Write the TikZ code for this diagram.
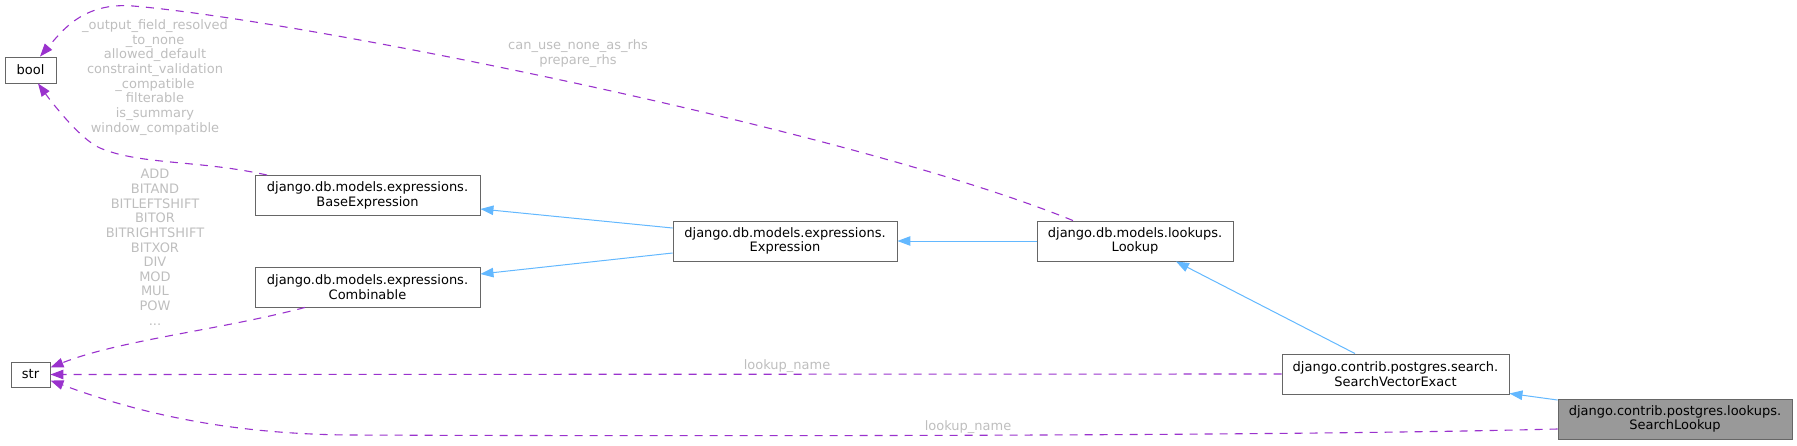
\documentclass[tikz,border=0pt]{standalone}
\usepackage{fontspec}
\setmainfont{DejaVu Sans}
\usetikzlibrary{arrows.meta}
\definecolor{bordocl}{HTML}{666666}
\definecolor{grigiocl}{HTML}{999999}
\definecolor{blucl}{HTML}{63B8FF}
\definecolor{violacl}{HTML}{9A32CD}
\definecolor{etichcl}{HTML}{BEBEBE}
\begin{document}
\begin{tikzpicture}[
    x=1pt, y=-1pt,
    font=\fontsize{13}{14.65}\selectfont,
    classe/.style={draw=bordocl,fill=white,line width=0.9pt,align=center,
                   inner sep=0pt,minimum height=40},
    corrente/.style={classe,fill=grigiocl},
    eredita/.style={draw=blucl,line width=1pt,-{Triangle[length=13pt,width=9.5pt]}},
    uso/.style={draw=violacl,line width=1.1pt,dash pattern=on 8pt off 7pt,
                -{Triangle[length=13pt,width=9.5pt]}},
    etich/.style={text=etichcl,align=center,inner sep=0pt}]

  \useasboundingbox (0,0) rectangle (1797,445);

  % ---- le classi -------------------------------------------------------------
  \node[classe,minimum width=51,minimum height=26] (bool) at (30.5,70)  {bool};
  \node[classe,minimum width=39,minimum height=25] (str)  at (30.5,374.5) {str};
  \node[classe,minimum width=225] (base) at (367.5,195.5)
    {django.db.models.expressions.\\BaseExpression};
  \node[classe,minimum width=225] (comb) at (367.5,287)
    {django.db.models.expressions.\\Combinable};
  \node[classe,minimum width=224] (expr) at (785,241)
    {django.db.models.expressions.\\Expression};
  \node[classe,minimum width=196] (lookup) at (1135,241)
    {django.db.models.lookups.\\Lookup};
  \node[classe,minimum width=227] (sve) at (1395.5,374)
    {django.contrib.postgres.search.\\SearchVectorExact};
  \node[corrente,minimum width=234] (sl) at (1675,419)
    {django.contrib.postgres.lookups.\\SearchLookup};

  % ---- ereditarieta' ---------------------------------------------------------
  \draw[eredita] ([yshift=13pt]expr.west)  -- ([yshift=-13.5pt]base.east);
  \draw[eredita] ([yshift=-12pt]expr.west) -- ([yshift=13pt]comb.east);
  \draw[eredita] (lookup.west) -- (expr.east);
  \draw[eredita] ([xshift=-40.5pt]sve.north) -- ([xshift=41pt]lookup.south);
  \draw[eredita] ([yshift=19pt]sl.west) -- ([yshift=1pt]sve.south east);

  % ---- attributi usati (tratteggio) ------------------------------------------
  \draw[uso] ([xshift=-62pt]lookup.north)
      .. controls (850,130) and (300,20) .. (133,6)
      .. controls (83,2) and (62,31) .. ([xshift=9.5pt]bool.north);
  \draw[uso] ([xshift=-100.5pt]base.north)
      .. controls (200,160) and (140,165) .. (100,148)
      .. controls (80,139.5) and (50,100) .. ([xshift=7.5pt]bool.south);
  \draw[uso] ([xshift=-62.5pt]comb.south)
      .. controls (220,330) and (120,340) .. ([yshift=7pt]str.east);
  \draw[uso] (sve.west) -- (str.east);
  \draw[uso] ([yshift=-10pt]sl.west)
      .. controls (1250,437) and (600,436) .. (350,435)
      .. controls (220,434) and (130,410) .. ([yshift=-6pt]str.east);

  % ---- etichette -------------------------------------------------------------
  \node[etich] (lbool) at (155,77.5) {\_output\_field\_resolved\\\_to\_none\\allowed\_default\\
    constraint\_validation\\\_compatible\\filterable\\is\_summary\\window\_compatible};
  \node[etich] (llookup) at (578,53.5) {can\_use\_none\_as\_rhs\\prepare\_rhs};
  \node[etich] (lcomb) at (155,247.3) {ADD\\BITAND\\BITLEFTSHIFT\\BITOR\\BITRIGHTSHIFT\\
    BITXOR\\DIV\\MOD\\MUL\\POW\\...};
  \node[etich] (lsve) at (787,366) {lookup\_name};
  \node[etich] (lsl)  at (968,427) {lookup\_name};

\end{tikzpicture}
\end{document}
